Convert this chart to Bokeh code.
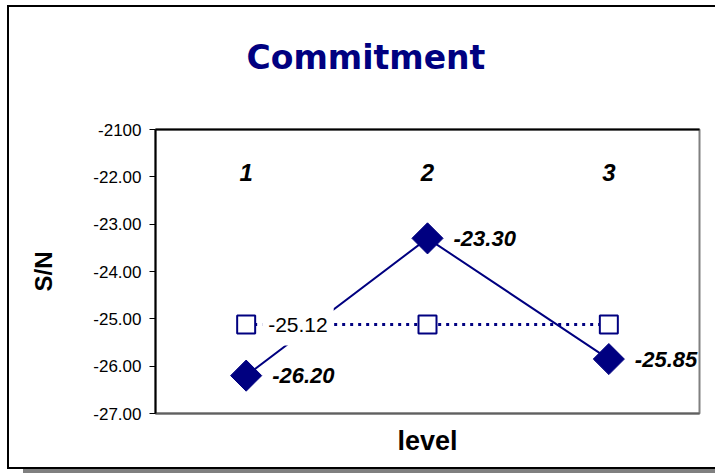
import math

from bokeh.core.properties import value
from bokeh.embed import file_html
from bokeh.models import FixedTicker, Label, LinearAxis, Range1d
from bokeh.plotting import figure
from bokeh.resources import INLINE

# S/N ratio per factor level
levels = [1, 2, 3]
level_labels = ["1", "2", "3"]
sn_values = [-26.20, -23.30, -25.85]
sn_labels = ["-26.20", "-23.30", "-25.85"]

# overall mean S/N
mean_sn = -25.12
mean_label = "-25.12"

y_ticks = [-27, -26, -25, -24, -23, -22, -21]
y_tick_labels = ["-27.00", "-26.00", "-25.00", "-24.00", "-23.00", "-22.00", "-2100"]

NAVY = "#000080"
FONT = "Liberation Sans"

p = figure(
    width=708, height=464,
    output_backend="svg", toolbar_location=None,
    x_range=Range1d(0.5, 3.5), y_range=Range1d(-27, -21),
    min_border_left=146, min_border_right=18,
    min_border_top=122, min_border_bottom=58,
    background_fill_color="white", border_fill_color="white",
)
# chart frame with a drop shadow
p.styles = {
    "margin-left": "7px",
    "margin-top": "5px",
    "border-left": "2px solid black",
    "border-top": "2px solid black",
    "border-bottom": "2px solid black",
    "box-shadow": "16px 5px 0 0 #808080",
}
p.xgrid.visible = False
p.ygrid.visible = False
p.outline_line_color = "#808080"
p.outline_line_width = 2

# title, shifted to sit over the middle of the whole chart; the trailing
# empty line lifts it away from the plot area
p.title.text = "Commitment\n"
p.title.align = "left"
p.title.offset = 91
p.title.text_font = "DejaVu Sans"
p.title.text_font_style = "bold"
p.title.text_font_size = "33px"
p.title.text_color = NAVY
p.title.standoff = 27

# value axis
ya = p.yaxis[0]
ya.ticker = FixedTicker(ticks=y_ticks)
ya.major_label_overrides = {t: s for t, s in zip(y_ticks, y_tick_labels)}
ya.major_label_text_font = FONT
ya.major_label_text_font_size = "17px"
ya.major_label_text_color = "black"
ya.major_label_standoff = 8
ya.major_tick_in = 0
ya.major_tick_out = 6
ya.major_tick_line_color = "black"
ya.minor_tick_line_color = None
ya.axis_line_color = "black"
ya.axis_line_width = 2
ya.axis_label = "S/N"
ya.axis_label_text_font = FONT
ya.axis_label_text_font_style = "bold"
ya.axis_label_text_font_size = "24px"
ya.axis_label_text_color = "black"
ya.axis_label_standoff = 33

# bottom axis carries only the title "level"
xa = p.xaxis[0]
xa.ticker = FixedTicker(ticks=[])
xa.major_label_text_font_size = "0px"
xa.major_tick_line_color = None
xa.minor_tick_line_color = None
xa.major_tick_out = 0
xa.axis_line_color = "#606060"
xa.axis_line_width = 2
xa.axis_label = "level"
xa.axis_label_text_font = FONT
xa.axis_label_text_font_style = "bold"
xa.axis_label_text_font_size = "27px"
xa.axis_label_text_color = "black"
xa.axis_label_standoff = 12

# top edge of the plot area
top_axis = LinearAxis(ticker=FixedTicker(ticks=[]), major_label_text_font_size="0px",
                      major_tick_line_color=None, minor_tick_line_color=None,
                      major_tick_out=0, axis_line_color="black", axis_line_width=2)
p.add_layout(top_axis, "above")

# mean line with open squares
p.line(levels, [mean_sn] * len(levels), line_color=NAVY, line_width=3, line_dash="3 5")
p.scatter(levels, [mean_sn] * len(levels), marker="square", size=18,
          fill_color="white", line_color=NAVY, line_width=2)

# level S/N with filled diamonds
p.line(levels, sn_values, line_color=NAVY, line_width=2)
p.scatter(levels, sn_values, marker="square", angle=math.pi / 4, size=22,
          fill_color=NAVY, line_color=NAVY)

p.text(levels, sn_values, text=sn_labels, x_offset=26,
       text_font=value(FONT), text_font_style="bold italic", text_font_size="22px",
       text_align="left", text_baseline="middle", text_color="black")

# level numbers inside the plot area
cat_label_y = -21.9
p.text(levels, [cat_label_y] * len(levels), text=level_labels,
       text_font=value(FONT), text_font_style="bold italic", text_font_size="24px",
       text_align="center", text_baseline="middle", text_color="black")

# mean value label on a white box
p.add_layout(Label(x=levels[0], y=mean_sn, text=mean_label, x_offset=16,
                   text_font=FONT, text_font_size="21px", text_color="black",
                   text_align="left", text_baseline="middle",
                   background_fill_color="white", padding=(6, 14)))

open("out.html", "w").write(file_html(p, INLINE))
